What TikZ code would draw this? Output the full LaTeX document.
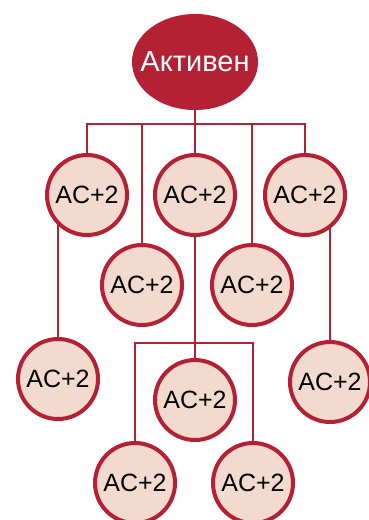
\documentclass[tikz,border=0pt]{standalone}
\usepackage{fontspec}
\setmainfont{Liberation Sans}
\usetikzlibrary{shapes.geometric,backgrounds}
\definecolor{darkred}{RGB}{180,33,52}
\definecolor{peach}{RGB}{243,218,206}
\begin{document}
\begin{tikzpicture}[x=1pt,y=-1pt,
		ac/.style={circle,draw=darkred,fill=peach,line width=4pt,minimum size=80pt,inner sep=0pt,font=\fontsize{25}{30}\selectfont},
		link/.style={draw=darkred,line width=2pt}]
		\useasboundingbox (0,0) rectangle (368,520);
		\node[ellipse,fill=darkred,minimum width=126pt,minimum height=96pt,inner sep=0pt,
			label={[text=white,font=\fontsize{29}{34}\selectfont]center:Активен}] (root) at (195,62) {};
		\node[ac] (a1) at (87,195) {AC+2};
		\node[ac] (a2) at (195,195) {AC+2};
		\node[ac] (a3) at (305,195) {AC+2};
		\node[ac] (b1) at (142,285) {AC+2};
		\node[ac] (b2) at (252,285) {AC+2};
		\node[ac] (c1) at (58,379) {AC+2};
		\node[ac] (c2) at (195,400) {AC+2};
		\node[ac] (c3) at (330,382) {AC+2};
		\node[ac] (d1) at (135,483) {AC+2};
		\node[ac] (d2) at (253,483) {AC+2};
		\coordinate (bus) at (0,124);
		\coordinate (sub) at (0,343);
		\begin{pgfonlayer}{background}
			\draw[link] (a1.north) -- (a1 |- bus) -- (a3 |- bus) -- (a3.north);
			\draw[link] (root.south) -- (a2.north);
			\draw[link] (b1.north) -- (b1 |- bus);
			\draw[link] (b2.north) -- (b2 |- bus);
			\draw[link] (a2.south) -- (c2.north);
			\draw[link] (c1.north) -- (c1 |- a1);
			\draw[link] (c3.north) -- (c3 |- a3);
			\draw[link] (d1.north) -- (d1 |- sub) -- (d2 |- sub) -- (d2.north);
		\end{pgfonlayer}
\end{tikzpicture}
\end{document}
